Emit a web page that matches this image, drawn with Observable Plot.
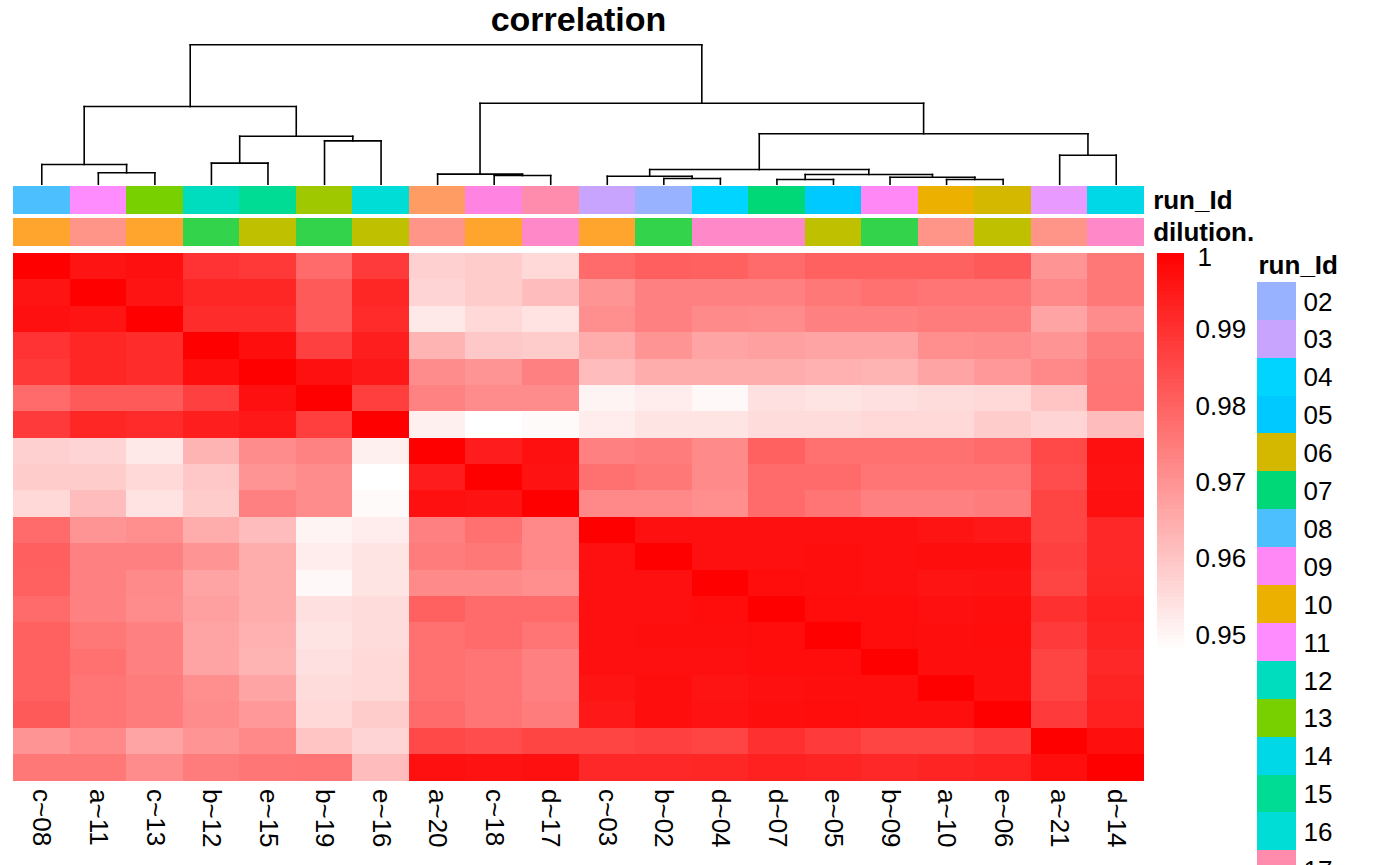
<!DOCTYPE html>
<html><head><meta charset="utf-8">
<script src="https://cdn.jsdelivr.net/npm/d3@7"></script>
<script src="https://cdn.jsdelivr.net/npm/@observablehq/plot@0.6"></script>
<style>
html,body{margin:0;padding:0;overflow:hidden;background:#fff;}
#root{position:relative;width:1400px;height:865px;overflow:hidden;font-family:"Liberation Sans",Arial,Helvetica,sans-serif;}
#root svg{position:absolute;}
#title{position:absolute;left:0;width:1157px;text-align:center;top:2px;font-weight:bold;font-size:34px;line-height:34px;z-index:5;}
</style></head><body><div id="root"></div>
<script>
// ---------- data ----------
const samples = ["c~08","a~11","c~13","b~12","e~15","b~19","e~16","a~20","c~18","d~17","c~03","b~02","d~04","d~07","e~05","b~09","a~10","e~06","a~21","d~14"];
const runId    = ["08","11","13","12","15","19","16","20","18","17","03","02","04","07","05","09","10","06","21","14"];
const dilution = ["c","a","c","b","e","b","e","a","c","d","c","b","d","d","e","b","a","e","a","d"];
const runLevels = ["02","03","04","05","06","07","08","09","10","11","12","13","14","15","16","17","18","19","20","21"];
const legendTicks = [0.95,0.96,0.97,0.98,0.99];
const legendTop = [1];
const colorMin = 0.948, colorMax = 1;

// correlation matrix (rows and columns in the order of `samples`)
const corr = [
[1,.9959,.9967,.9896,.9886,.9782,.9882,.9576,.9584,.9560,.9782,.9806,.9804,.9782,.9804,.9804,.9804,.9816,.9698,.9755],
[.9959,1,.9959,.9922,.9922,.9816,.9922,.9568,.9584,.9617,.9698,.9739,.9739,.9739,.9755,.9772,.9763,.9763,.9723,.9755],
[.9967,.9959,1,.9910,.9910,.9816,.9914,.9527,.9560,.9539,.9710,.9739,.9719,.9714,.9739,.9739,.9747,.9747,.9666,.9714],
[.9896,.9922,.9910,1,.9971,.9869,.9939,.9633,.9592,.9584,.9649,.9698,.9666,.9674,.9666,.9666,.9710,.9714,.9698,.9747],
[.9886,.9922,.9910,.9971,1,.9967,.9951,.9714,.9698,.9739,.9617,.9649,.9649,.9649,.9641,.9633,.9666,.9690,.9723,.9759],
[.9782,.9816,.9816,.9869,.9967,1,.9873,.9735,.9714,.9714,.9502,.9519,.9494,.9543,.9535,.9543,.9551,.9560,.9600,.9763],
[.9882,.9922,.9914,.9939,.9951,.9873,1,.9511,.9480,.9490,.9519,.9535,.9535,.9551,.9551,.9560,.9560,.9584,.9568,.9617],
[.9576,.9568,.9527,.9633,.9714,.9735,.9511,1,.9943,.9967,.9739,.9747,.9719,.9804,.9772,.9772,.9772,.9782,.9853,.9967],
[.9584,.9584,.9560,.9592,.9698,.9714,.9480,.9943,1,.9963,.9772,.9755,.9719,.9782,.9782,.9763,.9763,.9763,.9845,.9963],
[.9560,.9617,.9539,.9584,.9739,.9714,.9490,.9967,.9963,1,.9723,.9723,.9710,.9782,.9763,.9739,.9739,.9747,.9861,.9967],
[.9782,.9698,.9710,.9649,.9617,.9502,.9519,.9739,.9772,.9723,1,.9967,.9967,.9967,.9967,.9967,.9959,.9951,.9861,.9918],
[.9806,.9739,.9739,.9698,.9649,.9519,.9535,.9747,.9755,.9723,.9967,1,.9967,.9967,.9971,.9967,.9971,.9971,.9869,.9918],
[.9804,.9739,.9719,.9666,.9649,.9494,.9535,.9719,.9719,.9710,.9967,.9967,1,.9976,.9971,.9967,.9959,.9963,.9861,.9922],
[.9782,.9739,.9714,.9674,.9649,.9543,.9551,.9804,.9782,.9782,.9967,.9967,.9976,1,.9976,.9976,.9967,.9971,.9902,.9935],
[.9804,.9755,.9739,.9666,.9641,.9535,.9551,.9772,.9782,.9763,.9967,.9971,.9971,.9976,1,.9976,.9971,.9976,.9882,.9927],
[.9804,.9772,.9739,.9666,.9633,.9543,.9560,.9772,.9763,.9739,.9967,.9967,.9967,.9976,.9976,1,.9971,.9971,.9861,.9918],
[.9804,.9763,.9747,.9710,.9666,.9551,.9560,.9772,.9763,.9739,.9959,.9971,.9959,.9967,.9971,.9971,1,.9971,.9861,.9927],
[.9816,.9763,.9747,.9714,.9690,.9560,.9584,.9782,.9763,.9747,.9951,.9971,.9963,.9971,.9976,.9971,.9971,1,.9882,.9935],
[.9698,.9723,.9666,.9698,.9723,.9600,.9568,.9853,.9845,.9861,.9861,.9869,.9861,.9902,.9882,.9861,.9861,.9882,1,.9971],
[.9755,.9755,.9714,.9747,.9759,.9763,.9617,.9967,.9963,.9967,.9918,.9918,.9922,.9935,.9927,.9918,.9927,.9935,.9971,1]
];

// dendrogram merges (leaf label or "mK" = K-th merge), with heights (root = 1)
const mergeLeft   = ["d~07","a~10","b~02","b~09","c~03","c~18","m1","a~20","a~11","m5","c~08","b~12","a~21","b~19","m12","m10","m11","m8","m17"];
const mergeRight  = ["e~05","e~06","d~04","m2","m3","d~17","m4","m6","c~13","m7","m9","e~15","d~14","e~16","m14","m13","m15","m16","m18"];
const mergeHeight = [0.034,0.034,0.041,0.050,0.057,0.062,0.070,0.072,0.082,0.105,0.141,0.151,0.208,0.311,0.344,0.362,0.557,0.581,1.0];

// ---------- styles ----------
const runColors = {"02":"#99B2FF","03":"#C8A4FF","04":"#00D4FF","05":"#00C9FF","06":"#D4B800","07":"#00D878","08":"#4CC0FF","09":"#FF88F6","10":"#ECB000","11":"#FF8CFF","12":"#00DCBE","13":"#78D000","14":"#00D8E8","15":"#00DC94","16":"#00DCD6","17":"#FF8CAC","18":"#FF84E2","19":"#A0C800","20":"#FF9C64","21":"#E89AFF"};
const dilColors = {a:"#FF9488", b:"#33D44C", c:"#FFA52E", d:"#FF88C8", e:"#BEC000"};
const FONT = "Liberation Sans, Arial, Helvetica, sans-serif";
const root = document.getElementById("root");
const baseStyle = {fontFamily: FONT, fontSize: "26px", background: "transparent", overflow: "visible"};
function place(svg, left, top) { svg.style.left = left + "px"; svg.style.top = top + "px"; root.appendChild(svg); }
const colorScale = {type: "linear", domain: [colorMin, colorMax], range: ["white", "red"], interpolate: "rgb"};

// ---------- dendrogram ----------
const pos = {};
samples.forEach((s, i) => pos[s] = {x: i, h: 0});
const segs = [];
mergeLeft.forEach((l, k) => {
  const a = pos[l], b = pos[mergeRight[k]], h = mergeHeight[k];
  segs.push({x1: a.x, y1: a.h, x2: a.x, y2: h});
  segs.push({x1: a.x, y1: h, x2: b.x, y2: h});
  segs.push({x1: b.x, y1: h, x2: b.x, y2: b.h});
  pos["m" + (k + 1)] = {x: (a.x + b.x) / 2, h};
});
const dend = Plot.plot({
  width: 1400, height: 184, marginLeft: 13, marginRight: 256, marginTop: 44.3, marginBottom: 0.3,
  style: baseStyle,
  x: {domain: [-0.5, samples.length - 0.5], axis: null},
  y: {domain: [0, 1], axis: null},
  marks: [Plot.link(segs, {x1: "x1", y1: "y1", x2: "x2", y2: "y2", stroke: "black", strokeWidth: 1.6, strokeLinecap: "square"})]
});
place(dend, 0, 0);

// ---------- annotations ----------
const annoRows = ["run_Id", "dilution."];
const annoCells = samples.flatMap((s, i) => [
  {col: s, row: "run_Id", color: runColors[runId[i]]},
  {col: s, row: "dilution.", color: dilColors[dilution[i]]}
]);
const anno = Plot.plot({
  width: 1400, height: 59.7, marginLeft: 13, marginRight: 256, marginTop: 0, marginBottom: 0,
  style: baseStyle,
  x: {domain: samples, padding: 0, round: false, axis: null},
  y: {domain: annoRows, paddingInner: 0.134, paddingOuter: 0, round: false, axis: null},
  color: {type: "identity"},
  marks: [
    Plot.cell(annoCells, {x: "col", y: "row", fill: "color", inset: 0, shapeRendering: "crispEdges"}),
    Plot.text(annoRows, {x: () => samples[samples.length - 1], y: d => d, text: d => d, dx: 37, textAnchor: "start", fontWeight: "bold", fontSize: 26, fill: "black"})
  ]
});
place(anno, 0, 186);

// ---------- heatmap ----------
const cells = [];
samples.forEach((r, i) => samples.forEach((c, j) => cells.push({row: r, col: c, value: corr[i][j]})));
const heat = Plot.plot({
  width: 1400, height: 527.5 + 85, marginLeft: 13, marginRight: 256, marginTop: 0, marginBottom: 85,
  style: baseStyle,
  x: {domain: samples, padding: 0, round: false},
  y: {domain: samples, padding: 0, round: false, axis: null},
  color: colorScale,
  marks: [
    Plot.cell(cells, {x: "col", y: "row", fill: "value", inset: 0, shapeRendering: "crispEdges"}),
    Plot.axisX({anchor: "bottom", tickRotate: 90, tickSize: 0, tickPadding: 8, fontSize: 26, label: null, fill: "black"})
  ]
});
place(heat, 0, 253);

// ---------- colour legend ----------
const steps = d3.range(0, 104).map(i => colorMin + i * 0.0005);
const leg = Plot.plot({
  width: 100, height: 430, marginLeft: 7, marginRight: 66, marginTop: 13, marginBottom: 20,
  style: baseStyle,
  x: {domain: [0, 1], axis: null},
  y: {domain: [colorMin, colorMax]},
  color: colorScale,
  marks: [
    Plot.rect(steps, {x1: 0, x2: 1, y1: d => d, y2: d => Math.min(colorMax, d + 0.0005), fill: d => d + 0.00025, inset: 0, shapeRendering: "crispEdges"}),
    Plot.axisY({anchor: "right", ticks: legendTicks, tickSize: 0, tickPadding: 11, fontSize: 26, label: null, fill: "black",
      tickFormat: d => d.toFixed(2)}),
    Plot.axisY({anchor: "right", ticks: legendTop, tickSize: 0, tickPadding: 13, fontSize: 26, label: null, fill: "black", dy: 4,
      tickFormat: d => String(d)})
  ]
});
place(leg, 1150, 240);

// ---------- run_Id legend ----------
const runLeg = Plot.plot({
  width: 160, height: 625, marginLeft: 17, marginRight: 104, marginTop: 0, marginBottom: 0,
  style: baseStyle,
  x: {domain: ["k"], padding: 0, round: false, axis: null},
  y: {domain: runLevels, padding: 0, round: false, range: [41.8, 41.8 + runLevels.length * 37.9], axis: null},
  color: {type: "identity"},
  marks: [
    Plot.cell(runLevels, {x: () => "k", y: d => d, fill: d => runColors[d], inset: 0, shapeRendering: "crispEdges"}),
    Plot.text(runLevels, {x: () => "k", y: d => d, text: d => d, dx: 26.5, dy: 1, textAnchor: "start", fontSize: 26, fill: "black"}),
    Plot.text(["run_Id"], {frameAnchor: "top-left", dx: 1, dy: 25, text: d => d, textAnchor: "start", lineAnchor: "middle", fontWeight: "bold", fontSize: 26, fill: "black"})
  ]
});
place(runLeg, 1240, 240);

// ---------- title ----------
const title = document.createElement("div");
title.id = "title";
title.textContent = "correlation";
root.appendChild(title);
</script>
</body></html>
